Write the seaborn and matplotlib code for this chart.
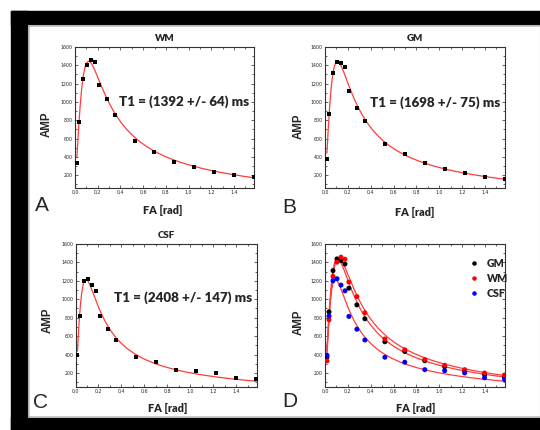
import numpy as np
import pandas as pd
import matplotlib
matplotlib.use("Agg")
import matplotlib.pyplot as plt
import seaborn as sns
from matplotlib.ticker import MultipleLocator, FuncFormatter
from matplotlib.patches import Rectangle

# flip angles (rad) and measured amplitudes
fa = [0.017, 0.035, 0.070, 0.105, 0.140, 0.175, 0.209, 0.279,
      0.349, 0.524, 0.698, 0.873, 1.047, 1.222, 1.396, 1.571]
amp_wm = [331, 777, 1249, 1403, 1457, 1435, 1187, 1030,
          854, 569, 452, 346, 284, 236, 200, 178]
amp_gm = [373, 864, 1311, 1438, 1420, 1383, 1120, 939,
          788, 539, 434, 333, 268, 225, 181, 156]
amp_csf = [393, 818, 1201, 1223, 1154, 1092, 814, 675,
           558, 371, 317, 236, 225, 200, 148, 130]

tissues = ["WM", "GM", "CSF"]
t1_fit = [1392, 1698, 2408]      # ms
t1_err = [64, 75, 147]
m0_fit = [24080, 26580, 26680]   # fitted M0
TR = 10.0                        # ms
colors = {"GM": "black", "WM": "red", "CSF": "blue"}
LINE_RED = "#ff3c3c"


def spgr(a, m0, t1):
    e = np.exp(-TR / t1)
    return m0 * np.sin(a) * (1 - e) / (1 - np.cos(a) * e)


points = pd.DataFrame({
    "FA": fa * 3,
    "AMP": amp_gm + amp_wm + amp_csf,
    "tissue": ["GM"] * len(fa) + ["WM"] * len(fa) + ["CSF"] * len(fa),
})

grid = np.linspace(fa[0], fa[-1], 400)
curves = pd.concat([
    pd.DataFrame({"FA": grid, "AMP": spgr(grid, m0, t1), "tissue": name})
    for name, m0, t1 in zip(tissues, m0_fit, t1_fit)
])

sns.set_style("ticks")
plt.rcParams["font.family"] = ["Lato", "DejaVu Sans"]
BOLD = "heavy"

W, H = 540, 430
fig = plt.figure(figsize=(W / 100, H / 100), dpi=100)


def px_axes(left, top, right, bottom):
    return fig.add_axes([left / W, 1 - bottom / H, (right - left) / W, (bottom - top) / H])


def style_axes(ax, ylow):
    ax.set_xlim(0, 1.575)
    ax.set_ylim(ylow, 1600)
    ax.xaxis.set_major_locator(MultipleLocator(0.2))
    ax.xaxis.set_minor_locator(MultipleLocator(0.1))
    ax.yaxis.set_major_locator(MultipleLocator(200))
    ax.yaxis.set_minor_locator(MultipleLocator(100))
    ax.xaxis.set_major_formatter(FuncFormatter(lambda v, p: f"{v:.1f}".replace(".", ",")))
    ax.yaxis.set_major_formatter(FuncFormatter(lambda v, p: f"{v:.0f}"))
    ax.tick_params(which="both", direction="in", top=True, right=True,
                   width=0.5, labelsize=3.4, pad=1.5, labelfontfamily="DejaVu Sans")
    ax.tick_params(which="major", length=2.2)
    ax.tick_params(which="minor", length=1.2)
    for s in ax.spines.values():
        s.set_linewidth(0.8)
        s.set_color("#333333")
    ax.set_xlabel("FA [rad]", fontsize=7.8, fontweight=BOLD)
    ax.set_ylabel("AMP", fontsize=8.3, fontweight="bold", family="Liberation Sans")


ax_a = px_axes(75, 47, 254, 188)
ax_b = px_axes(325, 47, 505, 188)
ax_c = px_axes(75.5, 244, 256.5, 387)
ax_d = px_axes(325, 244, 505, 387)

single = [(ax_a, "WM", 60, 0.616), (ax_b, "GM", 60, 0.605), (ax_c, "CSF", 48, 0.625)]
for ax, name, ylow, ty in single:
    sns.lineplot(data=curves[curves.tissue == name], x="FA", y="AMP", ax=ax,
                 color=LINE_RED, lw=0.9, sort=False)
    sns.scatterplot(data=points[points.tissue == name], x="FA", y="AMP", ax=ax,
                    color="black", marker="s", s=5, linewidth=0, zorder=3)
    style_axes(ax, ylow)
    i = tissues.index(name)
    ax.text(0.975, ty, f"T1 = ({t1_fit[i]} +/- {t1_err[i]}) ms", transform=ax.transAxes,
            ha="right", va="center", fontsize=9.6, fontweight=BOLD)
    ax.text(0.5, 1.06, name, transform=ax.transAxes, ha="center", va="center",
            fontsize=7, fontweight=BOLD)

# combined panel
for name in tissues:
    sns.lineplot(data=curves[curves.tissue == name], x="FA", y="AMP", ax=ax_d,
                 color=LINE_RED, lw=0.9, sort=False)
sns.scatterplot(data=points, x="FA", y="AMP", hue="tissue", hue_order=["GM", "WM", "CSF"],
                palette=colors, ax=ax_d, s=13, linewidth=0, zorder=3)
style_axes(ax_d, 48)
handles, labels = ax_d.get_legend_handles_labels()
ax_d.legend(handles, labels, loc="upper left", bbox_to_anchor=(0.745, 0.935), frameon=False,
            prop={"weight": BOLD, "size": 7.6}, handletextpad=0.25, labelspacing=0.4,
            borderaxespad=0, markerscale=0.9)

ax_a.yaxis.set_label_coords(-0.123, 0.45)
ax_b.yaxis.set_label_coords(-0.111, 0.44)
ax_c.yaxis.set_label_coords(-0.119, 0.47)
ax_d.yaxis.set_label_coords(-0.111, 0.45)
ax_a.xaxis.set_label_coords(0.49, -0.12)
ax_b.xaxis.set_label_coords(0.50, -0.133)
ax_c.xaxis.set_label_coords(0.507, -0.112)
ax_d.xaxis.set_label_coords(0.504, -0.112)

for letter, x, y in [("A", 41.5, 205.5), ("B", 289, 207.5), ("C", 40, 402.5), ("D", 290, 401.5)]:
    fig.text(x / W, 1 - y / H, letter, ha="center", va="center", fontsize=15,
             family="Liberation Sans")

# black frame around the figure
frame = [(11, 11, 529, 14), (11, 11, 17, 419), (11, 417, 529, 13)]
for x0, y0, w, h in frame:
    fig.patches.append(Rectangle((x0 / W, 1 - (y0 + h) / H), w / W, h / H,
                                 transform=fig.transFigure, color="black", zorder=0))
fig.patches.append(Rectangle((28 / W, 1 - 417 / H), 512 / W, 392 / H, transform=fig.transFigure,
                             fill=False, edgecolor="#b4b4b4", lw=0.8, zorder=0))

fig.savefig("out.png", dpi=100)
